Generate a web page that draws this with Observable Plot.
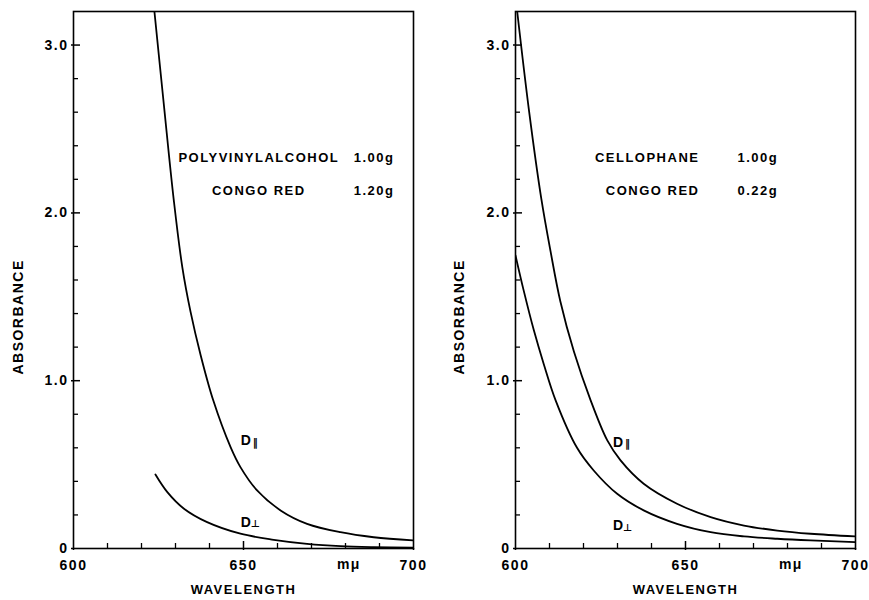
<!DOCTYPE html>
<html><head><meta charset="utf-8">
<script src="https://cdn.jsdelivr.net/npm/d3@7"></script>
<script src="https://cdn.jsdelivr.net/npm/@observablehq/plot@0.6"></script>
<style>
body{margin:0;background:#fff;}
#wrap{display:flex;width:869px;height:600px;overflow:hidden;}
#wrap svg{display:block;}
</style></head><body><div id="wrap"></div>
<script>
// ---- axes ----
const xDomain = [600, 700];
const yDomain = [0, 3.2];
const xTickLabels = [600, 650, 700];
const yTickLabels = [0, 1, 2, 3];
const xMinorTicks = [610, 620, 630, 640, 660, 670, 680, 690];
const yMinorTicks = [0.2, 0.4, 0.6, 0.8, 1.2, 1.4, 1.6, 1.8, 2.2, 2.4, 2.6, 2.8];
const yMajorTicks = [1, 2, 3];
const xMajorTicks = [650];
const xUnit = "mμ";
const xTitle = "WAVELENGTH";
const yTitle = "ABSORBANCE";

// ---- left panel: polyvinylalcohol film ----
const pvaParWl  = [623.8, 626.6, 629.5, 632.0, 634.4, 637.4, 641.1, 646.2, 649.1, 654.0, 660.9, 668.7, 678.5, 688.3, 700];
const pvaParAbs = [3.2, 2.64, 2.075, 1.677, 1.413, 1.152, 0.883, 0.604, 0.485, 0.346, 0.227, 0.147, 0.097, 0.067, 0.048];
const pvaPerWl  = [624.1, 627.6, 632.5, 639.3, 649.1, 658.9, 668.7, 678.5, 688.3, 700];
const pvaPerAbs = [0.441, 0.336, 0.237, 0.157, 0.088, 0.052, 0.028, 0.014, 0.008, 0.005];
const pvaNames   = ["POLYVINYLALCOHOL", "CONGO RED"];
const pvaAmounts = ["1.00g", "1.20g"];

// ---- right panel: cellophane film ----
const celParWl  = [600.5, 604.0, 607.6, 610.3, 613.2, 617.2, 622.1, 627.0, 630.9, 637.7, 647.5, 657.4, 667.2, 677.0, 686.8, 700];
const celParAbs = [3.2, 2.605, 2.083, 1.772, 1.472, 1.172, 0.883, 0.644, 0.525, 0.386, 0.267, 0.187, 0.137, 0.107, 0.088, 0.072];
const celPerWl  = [600, 602.4, 605.4, 608.3, 611.8, 618.1, 623.0, 629.9, 637.7, 647.5, 657.4, 667.2, 677.0, 686.8, 700];
const celPerAbs = [1.747, 1.538, 1.30, 1.10, 0.883, 0.60, 0.465, 0.326, 0.227, 0.147, 0.097, 0.072, 0.058, 0.048, 0.038];
const celNames   = ["CELLOPHANE", "CONGO RED"];
const celAmounts = ["1.00g", "0.22g"];

const curveLabels = ["D", "D"];
const curveSubs = ["‖", "⊥"];

function rows(xs, ys) { return xs.map((x, i) => ({x, y: ys[i]})); }

function panel(cfg) {
  const plotW = cfg.width - cfg.marginLeft - cfg.marginRight;
  const plotH = 600 - 11 - 52;
  // tick lengths in pixels converted to data units
  const pxX = (xDomain[1] - xDomain[0]) / plotW;
  const pxY = (yDomain[1] - yDomain[0]) / plotH;
  const par = rows(cfg.parWl, cfg.parAbs);
  const per = rows(cfg.perWl, cfg.perAbs);
  const notes = cfg.names.map((n, i) => ({name: n, amount: cfg.amounts[i], y: cfg.noteY[i]}));
  const dLabels = [
    {x: cfg.parLabel[0], y: cfg.parLabel[1], t: curveLabels[0], s: curveSubs[0]},
    {x: cfg.perLabel[0], y: cfg.perLabel[1], t: curveLabels[1], s: curveSubs[1]}
  ];
  const fmtY = d => d === 0 ? "0" : d.toFixed(1);
  return Plot.plot({
    width: cfg.width, height: 600,
    marginLeft: cfg.marginLeft, marginRight: cfg.marginRight,
    marginTop: 11, marginBottom: 52,
    style: {fontFamily: "Liberation Sans, Arial, sans-serif", fontWeight: "bold", fontSize: "13px", color: "#000", background: "#fff", letterSpacing: "1.5px"},
    x: {domain: xDomain, label: null},
    y: {domain: yDomain, label: null},
    marks: [
      Plot.ruleY(yMinorTicks, {y: d => d, x1: xDomain[0], x2: xDomain[0] + 5 * pxX, stroke: "#000", strokeWidth: 1.3}),
      Plot.ruleY(yMajorTicks, {y: d => d, x1: xDomain[0], x2: xDomain[0] + 7 * pxX, stroke: "#000", strokeWidth: 1.5}),
      Plot.ruleX(xMinorTicks, {x: d => d, y1: yDomain[0], y2: yDomain[0] + 5 * pxY, stroke: "#000", strokeWidth: 1.3}),
      Plot.ruleX(xMajorTicks, {x: d => d, y1: yDomain[0], y2: yDomain[0] + 7 * pxY, stroke: "#000", strokeWidth: 1.5}),
      Plot.axisY({ticks: yTickLabels, tickSize: 2, tickPadding: 3, tickFormat: fmtY, strokeWidth: 1.5, fontSize: 14, letterSpacing: 4, label: null}),
      Plot.axisX({ticks: xTickLabels, tickSize: 2, tickPadding: 10, tickFormat: d => String(d), strokeWidth: 1.5, fontSize: 14, letterSpacing: 3.5, label: null}),
      Plot.frame({stroke: "#000", strokeWidth: 1.6}),
      Plot.line(par, {x: "x", y: "y", stroke: "#000", strokeWidth: 1.8, curve: "catmull-rom", clip: true}),
      Plot.line(per, {x: "x", y: "y", stroke: "#000", strokeWidth: 1.8, curve: "catmull-rom", clip: true}),
      Plot.text([xUnit], {x: () => 681, frameAnchor: "bottom", dy: 20, text: d => d, fontSize: 14, letterSpacing: 0}),
      Plot.text([xTitle], {x: () => 650, frameAnchor: "bottom", dy: 45, text: d => d, letterSpacing: 0.5}),
      Plot.text([yTitle], {y: () => 1.38, frameAnchor: "left", textAnchor: "middle", dx: cfg.yTitleDx, rotate: -90, text: d => d, fontSize: 14, letterSpacing: 5.5}),
      Plot.text(notes, {x: cfg.nameX, y: "y", text: "name", textAnchor: cfg.nameAnchor}),
      Plot.text(notes, {x: cfg.amountX, y: "y", text: "amount", textAnchor: "start"}),
      Plot.text(dLabels, {x: "x", y: "y", text: "t", fontSize: 14, letterSpacing: 0, fill: "#000"}),
      Plot.text(dLabels, {x: "x", y: "y", text: "s", dx: 9.5, dy: 2, fontSize: 10, fontFamily: "DejaVu Sans", fontWeight: "bold", letterSpacing: 0, fill: "#000"})
    ]
  });
}

const wrap = document.getElementById("wrap");
wrap.append(panel({
  width: 434, marginLeft: 73, marginRight: 21, yTitleDx: -55,
  parWl: pvaParWl, parAbs: pvaParAbs, perWl: pvaPerWl, perAbs: pvaPerAbs,
  names: pvaNames, amounts: pvaAmounts, noteY: [2.326, 2.129],
  nameX: 654.5, nameAnchor: "middle", amountX: 682.4,
  parLabel: [650.9, 0.644], perLabel: [650.9, 0.157]
}));
wrap.append(panel({
  width: 435, marginLeft: 81, marginRight: 14, yTitleDx: -56,
  parWl: celParWl, parAbs: celParAbs, perWl: celPerWl, perAbs: celPerAbs,
  names: celNames, amounts: celAmounts, noteY: [2.326, 2.129],
  nameX: 654.1, nameAnchor: "end", amountX: 665.3,
  parLabel: [630.4, 0.634], perLabel: [630.4, 0.137]
}));
</script></body></html>
